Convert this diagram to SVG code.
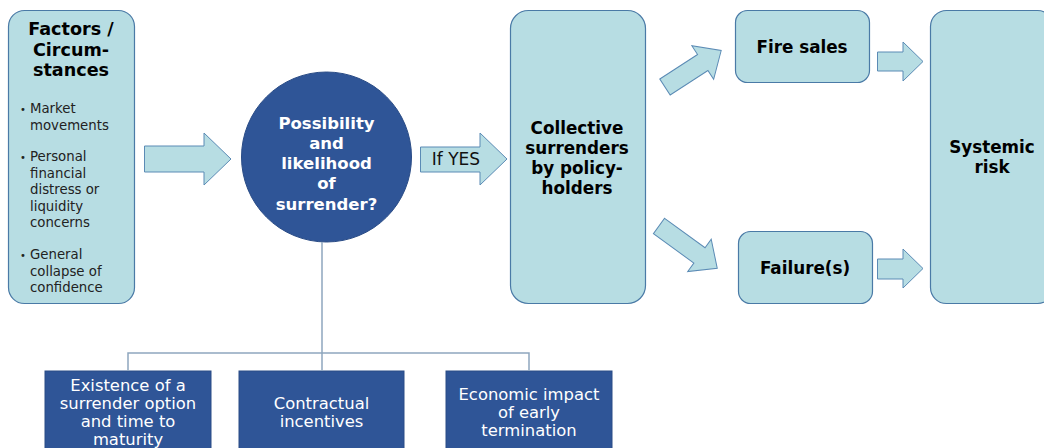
<svg xmlns="http://www.w3.org/2000/svg" width="1044" height="448" viewBox="0 0 1044 448">
<style>
.lb{fill:#b7dde3;stroke:#4a7aa6;stroke-width:1.2}
.ar{fill:#b7dde3;stroke:#5b8bb5;stroke-width:1}
.db{fill:#2f5597;stroke:#2a4c86;stroke-width:1}
.t{font-family:"DejaVu Sans",Verdana,sans-serif;font-weight:bold;font-size:16.8px;fill:#000;text-anchor:middle}
.tl{font-size:17.6px}
.tw{font-family:"DejaVu Sans",Verdana,sans-serif;font-weight:bold;font-size:16.5px;fill:#fff;text-anchor:middle}
.s{font-family:"DejaVu Sans",Verdana,sans-serif;font-size:13.3px;fill:#222}
.bu{font-size:10px}
.b{font-family:"DejaVu Sans",Verdana,sans-serif;font-size:16.4px;fill:#fff;text-anchor:middle}
.ln{fill:none;stroke:#8ea6be;stroke-width:1.5}
</style>
<rect width="1044" height="448" fill="#fff"/>

<g id="factors">
<rect class="lb" x="8.5" y="10.5" width="126" height="293" rx="16"/>
<text class="t tl" x="71" y="35">Factors /</text>
<text class="t tl" x="71" y="56">Circum-</text>
<text class="t tl" x="71" y="76">stances</text>
<text class="s"><tspan class="bu" x="20" y="113">•</tspan><tspan x="30" y="113">Market</tspan><tspan x="30" y="129.5">movements</tspan></text>
<text class="s"><tspan class="bu" x="20" y="161">•</tspan><tspan x="30" y="161">Personal</tspan><tspan x="30" y="177.5">financial</tspan><tspan x="30" y="194">distress or</tspan><tspan x="30" y="210.5">liquidity</tspan><tspan x="30" y="227">concerns</tspan></text>
<text class="s"><tspan class="bu" x="20" y="259">•</tspan><tspan x="30" y="259">General</tspan><tspan x="30" y="275.5">collapse of</tspan><tspan x="30" y="292">confidence</tspan></text>
</g>

<g id="possibility">
<circle class="db" cx="326.5" cy="157" r="85"/>
<text class="tw" x="326.5" y="129">Possibility</text>
<text class="tw" x="326.5" y="149">and</text>
<text class="tw" x="326.5" y="169">likelihood</text>
<text class="tw" x="326.5" y="189">of</text>
<text class="tw" x="326.5" y="210">surrender?</text>
</g>

<g id="collective">
<rect class="lb" x="510.5" y="10.5" width="135" height="293" rx="18"/>
<text class="t" x="577" y="134">Collective</text>
<text class="t" x="577" y="154">surrenders</text>
<text class="t" x="577" y="174">by policy-</text>
<text class="t" x="577" y="194">holders</text>
</g>

<g id="firesales">
<rect class="lb" x="735.5" y="10.5" width="134" height="72" rx="12"/>
<text class="t" x="802" y="53">Fire sales</text>
</g>

<g id="failures">
<rect class="lb" x="738.5" y="231.5" width="134" height="72" rx="12"/>
<text class="t" x="805" y="274">Failure(s)</text>
</g>

<g id="systemic">
<rect class="lb" x="930.5" y="10.5" width="123" height="293" rx="16"/>
<text class="t" x="992" y="153">Systemic</text>
<text class="t" x="992" y="173">risk</text>
</g>

<g id="existence">
<rect class="db" x="45" y="371" width="166" height="84"/>
<text class="b" x="128" y="391">Existence of a</text>
<text class="b" x="128" y="409">surrender option</text>
<text class="b" x="128" y="427">and time to</text>
<text class="b" x="128" y="445">maturity</text>
</g>

<g id="contractual">
<rect class="db" x="239" y="371" width="165" height="84"/>
<text class="b" x="321.5" y="409">Contractual</text>
<text class="b" x="321.5" y="427">incentives</text>
</g>

<g id="economic">
<rect class="db" x="446" y="371" width="166" height="84"/>
<text class="b" x="529" y="400">Economic impact</text>
<text class="b" x="529" y="418">of early</text>
<text class="b" x="529" y="436">termination</text>
</g>

<g id="connectors">
<polygon class="ar" points="144.5,146 204,146 204,133 231,159 204,185 204,172 144.5,172"/>
<polygon class="ar" points="420.5,147 480,147 480,133 507,159 480,185 480,172 420.5,172"/>
<text x="456" y="165" font-family="DejaVu Sans, Verdana, sans-serif" font-size="17" fill="#111" text-anchor="middle">If YES</text>
<polygon class="ar" transform="translate(665,87) rotate(-33)" points="0,-9.5 45,-9.5 45,-20 67,0 45,20 45,9.5 0,9.5"/>
<polygon class="ar" transform="translate(659,226) rotate(36)" points="0,-9.5 50,-9.5 50,-20 72,0 50,20 50,9.5 0,9.5"/>
<polygon class="ar" points="877.5,52 903,52 903,42 923,61.5 903,81 903,71 877.5,71"/>
<polygon class="ar" points="877.5,259 903,259 903,249 923,268.5 903,288 903,279 877.5,279"/>
<path class="ln" d="M322,242 V371 M128,371 V353 H529 V371"/>
</g>
</svg>
